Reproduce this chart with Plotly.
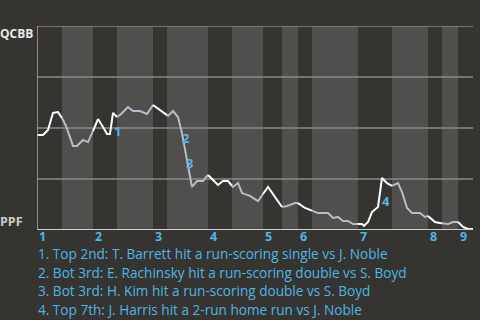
import plotly.graph_objects as go
import numpy as np

# Game progress (% of game) and win probability for QCBB (%)
progress = [0, 1.38, 2.52, 3.67, 4.82, 5.73, 6.65, 8.26, 9.17, 10.55, 11.70, 12.84,
            13.99, 15.14, 16.06, 16.74, 17.43, 18.35, 19.04, 20.87, 22.02, 23.62,
            25.23, 26.61, 28.67, 30.05, 31.19, 32.34, 33.26, 34.17, 34.86, 35.55,
            36.70, 38.07, 39.22, 41.51, 42.66, 43.81, 44.95, 46.10, 47.02, 48.85,
            50.69, 52.98, 56.19, 57.34, 59.17, 59.86, 61.47, 63.30, 64.45, 66.74,
            67.89, 69.04, 70.18, 71.33, 72.48, 73.62, 74.54, 75.00, 75.92, 76.83,
            78.21, 79.13, 80.28, 81.42, 82.11, 82.80, 83.72, 84.86, 86.01, 87.84,
            88.99, 89.68, 91.28, 92.43, 94.27, 95.41, 96.56, 97.71, 98.85, 100]
win_prob = [46.6, 46.6, 49.0, 57.4, 57.8, 54.9, 51.0, 41.2, 41.2, 44.1, 43.1, 48.5,
            54.4, 50.5, 47.1, 47.1, 57.4, 55.4, 56.4, 60.3, 58.3, 58.3,
            56.9, 61.3, 58.3, 55.9, 58.3, 55.4, 47.5, 36.8, 28.4, 21.1,
            24.0, 24.0, 27.0, 22.1, 24.0, 24.0, 21.1, 23.0, 18.1, 16.7,
            14.2, 21.1, 11.3, 11.8, 13.2, 13.2, 10.8, 9.3, 8.3, 8.3,
            5.9, 6.4, 4.4, 4.4, 2.9, 2.9, 2.9, 2.0, 3.9, 8.8,
            11.3, 25.5, 23.0, 21.6, 22.5, 23.0, 18.6, 10.8, 8.3, 8.3,
            6.4, 6.9, 3.9, 3.4, 2.9, 3.9, 3.9, 1.5, 0.5, 0.5]

# Half-inning boundaries (% of game)
half_innings = [0, 5.73, 12.84, 18.35, 26.61, 29.82, 39.22, 44.72, 51.83, 56.19,
                59.86, 63.07, 73.62, 81.42, 89.68, 92.89, 96.56, 100]
inning_labels = ["1", "2", "3", "4", "5", "6", "7", "8", "9"]

# Key events
event_ids = ["1", "2", "3", "4"]
event_x = [18.35, 34.17, 35.09, 80.05]
event_y = [48.5, 45.1, 32.8, 14.2]
event_text = [
    "1. Top 2nd: T. Barrett hit a run-scoring single vs J. Noble",
    "2. Bot 3rd: E. Rachinsky hit a run-scoring double vs S. Boyd",
    "3. Bot 3rd: H. Kim hit a run-scoring double vs S. Boyd",
    "4. Top 7th: J. Harris hit a 2-run home run vs J. Noble",
]
team_top = "QCBB"
team_bottom = "PPF"

BG = "#363430"
BAND = "#504f4d"
GRID = "#8a8987"
BLUE = "#4db6e6"
FONT = "Open Sans"

fig = go.Figure()

shapes = []
for i in range(len(half_innings) - 1):
    if i % 2 == 1:
        shapes.append(dict(type="rect", xref="x", yref="y", x0=half_innings[i],
                           x1=half_innings[i + 1], y0=0, y1=100, fillcolor=BAND,
                           line=dict(width=0), layer="below"))
for g in [25, 50, 75, 100]:
    shapes.append(dict(type="line", xref="x", yref="y", x0=0, x1=100, y0=g, y1=g,
                       line=dict(color=GRID, width=1.5), layer="below"))
shapes.append(dict(type="line", xref="x", yref="y", x0=0, x1=100, y0=0, y1=0,
                   line=dict(color="#cfcfcf", width=2)))
shapes.append(dict(type="line", xref="x", yref="y", x0=0, x1=0, y0=0, y1=100,
                   line=dict(color="#a8a8a8", width=1.5)))

px_ = np.array(progress)
wp_ = np.array(win_prob)
for i in range(len(half_innings) - 1):
    a, b = half_innings[i], half_innings[i + 1]
    mask = (px_ > a) & (px_ < b)
    xs = [a] + list(px_[mask]) + [b]
    ys = [np.interp(a, px_, wp_)] + list(wp_[mask]) + [np.interp(b, px_, wp_)]
    fig.add_trace(go.Scatter(x=xs, y=ys, mode="lines", hoverinfo="skip",
                             line=dict(color="#ffffff" if i % 2 == 0 else "#b4bec8", width=2),
                             showlegend=False))

ann = []
for k, lab in enumerate(inning_labels):
    ann.append(dict(x=half_innings[2 * k], y=-0.033, xref="x", yref="paper", text=f"<b>{lab}</b>",
                    showarrow=False, xanchor="left", yanchor="middle", xshift=0,
                    font=dict(color=BLUE, size=12.5, family=FONT)))
for eid, ex, ey in zip(event_ids, event_x, event_y):
    ann.append(dict(x=ex, y=ey, xref="x", yref="y", text=f"<b>{eid}</b>", showarrow=False,
                    xanchor="center", yanchor="middle",
                    font=dict(color=BLUE, size=13, family=FONT)))
for k, t in enumerate(event_text):
    ann.append(dict(x=0, y=-0.1176 - k * 0.0907, xref="paper", yref="paper", text=t,
                    showarrow=False, xanchor="left", yanchor="middle", xshift=-1,
                    font=dict(color=BLUE, size=13.6, family=FONT)))
ann.append(dict(x=0, y=0.965, xref="paper", yref="paper", text=f"<b>{team_top}</b>",
                showarrow=False, xanchor="right", yanchor="middle", xshift=-2,
                font=dict(color="#e8e8e8", size=12, family=FONT)))
ann.append(dict(x=0, y=0.04, xref="paper", yref="paper", text=f"<b>{team_bottom}</b>",
                showarrow=False, xanchor="right", yanchor="middle", xshift=-12,
                font=dict(color="#cccccc", size=12.5, family=FONT)))

fig.update_layout(
    width=480, height=320,
    margin=dict(l=37, r=7, t=26, b=90),
    paper_bgcolor=BG, plot_bgcolor=BG,
    xaxis=dict(range=[0, 100], visible=False, fixedrange=True),
    yaxis=dict(range=[0, 100], visible=False, fixedrange=True),
    shapes=shapes, annotations=ann, showlegend=False,
)
fig.write_html("out.html", config={"displayModeBar": False})
